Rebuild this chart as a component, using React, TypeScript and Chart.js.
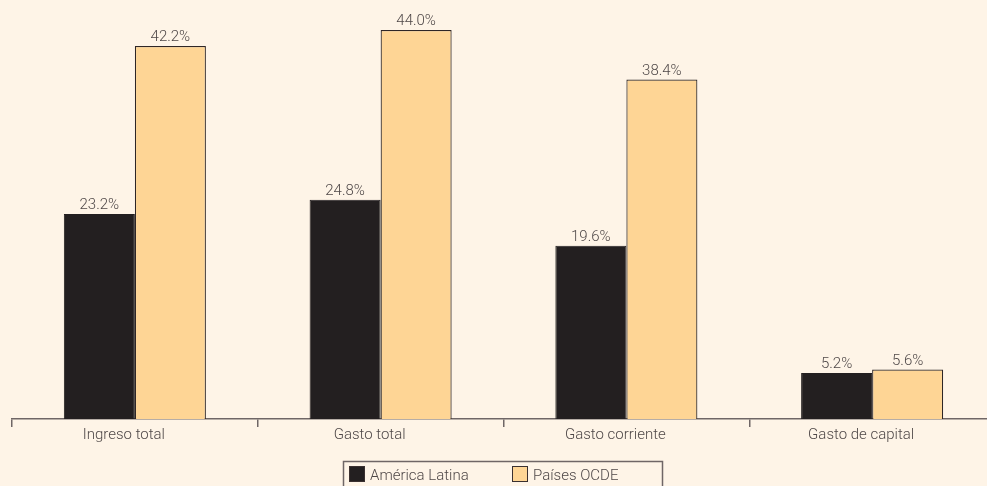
import React, { useEffect, useRef } from "react";
import { Chart, registerables } from "chart.js";

Chart.register(...registerables);

const categories = ["Ingreso total", "Gasto total", "Gasto corriente", "Gasto de capital"];
const americaLatina = [23.2, 24.8, 19.6, 5.2];
const paisesOCDE = [42.2, 44.0, 38.4, 5.6];
const seriesNames = ["América Latina", "Países OCDE"];

const BG = "#FEF4E7";
const TEXT = "#4f4848";
const FONT = "Roboto";
const WEIGHT = "300";

const valueLabels = {
  id: "valueLabels",
  afterDatasetsDraw(chart: any) {
    const ctx = chart.ctx;
    ctx.save();
    ctx.font = `${WEIGHT} 15px ${FONT}`;
    ctx.fillStyle = TEXT;
    ctx.textAlign = "center";
    ctx.textBaseline = "bottom";
    chart.data.datasets.forEach((ds: any, i: number) => {
      const meta = chart.getDatasetMeta(i);
      meta.data.forEach((bar: any, j: number) => {
        ctx.fillText(ds.data[j].toFixed(1) + "%", bar.x, bar.y - 1);
      });
    });
    ctx.restore();
  },
};

const categoryLabels = {
  id: "categoryLabels",
  afterDraw(chart: any) {
    const ctx = chart.ctx;
    const xs = chart.scales.x;
    ctx.save();
    ctx.font = `${WEIGHT} 15px ${FONT}`;
    ctx.fillStyle = TEXT;
    ctx.textAlign = "center";
    ctx.textBaseline = "middle";
    categories.forEach((c, i) => {
      ctx.fillText(c, xs.getPixelForValue(i) - 11, 435);
    });
    ctx.restore();
  },
};

const boxLegend = {
  id: "boxLegend",
  afterDraw(chart: any) {
    const ctx = chart.ctx;
    ctx.save();
    ctx.strokeStyle = "#6f6666";
    ctx.lineWidth = 1.5;
    ctx.strokeRect(343.5, 461.5, 319, 40);
    const items = [
      { x: 349, tx: 370 },
      { x: 512, tx: 533 },
    ];
    ctx.font = `${WEIGHT} 15px ${FONT}`;
    ctx.textBaseline = "middle";
    ctx.textAlign = "left";
    chart.data.datasets.forEach((ds: any, i: number) => {
      const it = items[i];
      ctx.fillStyle = ds.backgroundColor;
      ctx.fillRect(it.x, 466, 16, 16);
      ctx.strokeStyle = "#3a3030";
      ctx.lineWidth = 1;
      ctx.strokeRect(it.x + 0.5, 466.5, 15, 15);
      ctx.fillStyle = TEXT;
      ctx.fillText(seriesNames[i], it.tx, 476);
    });
    ctx.restore();
  },
};

export default function App() {
  const ref = useRef<HTMLCanvasElement>(null);
  useEffect(() => {
    document.body.style.margin = "0";
    const chart = new Chart(ref.current!, {
      type: "bar",
      data: {
        labels: categories,
        datasets: [
          {
            label: seriesNames[0],
            data: americaLatina,
            backgroundColor: "#231F20",
            borderColor: "#231F20",
            borderWidth: 1,
            categoryPercentage: 0.578,
            barPercentage: 1,
          },
          {
            label: seriesNames[1],
            data: paisesOCDE,
            backgroundColor: "#FED595",
            borderColor: "#2e2626",
            borderWidth: 1.2,
            categoryPercentage: 0.578,
            barPercentage: 1,
          },
        ],
      },
      options: {
        responsive: false,
        animation: false,
        layout: { padding: { left: 12, right: 0, top: 3.5, bottom: 0 } },
        plugins: { legend: { display: false }, tooltip: { enabled: false } },
        scales: {
          x: {
            grid: {
              drawOnChartArea: false,
              drawTicks: true,
              tickLength: 8,
              color: "#6f6666",
              lineWidth: 1.5,
              offset: true,
            },
            border: { color: "#6f6666", width: 1.5 },
            ticks: { color: "rgba(0,0,0,0)", font: { family: FONT, size: 15 }, padding: 1 },
            afterFit(scale: any) {
              scale.height = 67;
            },
          },
          y: {
            display: false,
            min: 0,
            max: 47,
          },
        },
      },
      plugins: [valueLabels, categoryLabels, boxLegend],
    });
    return () => chart.destroy();
  }, []);
  return (
    <div style={{ width: 987, height: 486, overflow: "hidden", background: BG }}>
      <canvas ref={ref} width={995} height={486} style={{ display: "block" }} />
    </div>
  );
}
